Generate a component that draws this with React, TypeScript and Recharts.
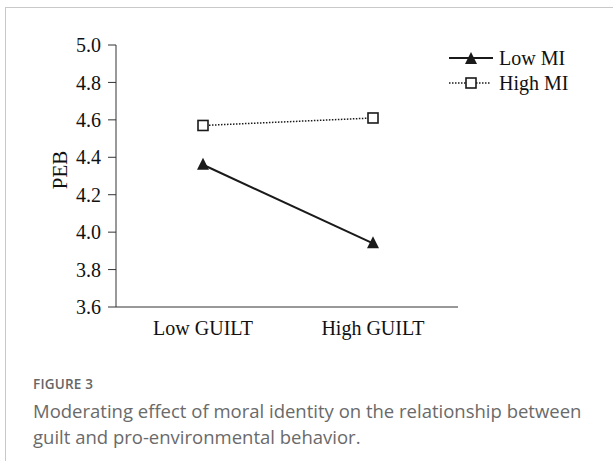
import React from 'react';
import { LineChart, Line, XAxis, YAxis } from 'recharts';

const categories = ['Low GUILT', 'High GUILT'];
const lowMI = [4.36, 3.94];
const highMI = [4.57, 4.61];
const yTicks = [3.6, 3.8, 4.0, 4.2, 4.4, 4.6, 4.8, 5.0];

const data = categories.map((cat, i) => ({ cat, low: lowMI[i], high: highMI[i] }));

const serif = '"Liberation Serif", "Times New Roman", serif';
const ink = '#1a1a1a';

const Triangle = (props: any) => {
  const { cx, cy } = props;
  if (cx == null || cy == null) return null;
  return <polygon points={`${cx},${cy - 7} ${cx - 6},${cy + 5} ${cx + 6},${cy + 5}`} fill={ink} />;
};

const Square = (props: any) => {
  const { cx, cy } = props;
  if (cx == null || cy == null) return null;
  return <rect x={cx - 5} y={cy - 5} width={10} height={10} fill="#fff" stroke={ink} strokeWidth={1.6} />;
};

// legend drawn by hand, top right of the plot
const LegendBox = () => (
  <svg width={130} height={52} style={{ display: 'block' }}>
    <line x1={0} y1={12} x2={44} y2={12} stroke={ink} strokeWidth={2} />
    <Triangle cx={22} cy={13} />
    <text x={50} y={12} dy="0.35em" fontFamily={serif} fontSize={20} fill="#111">Low MI</text>
    <line x1={0} y1={37} x2={42} y2={37} stroke={ink} strokeWidth={1.5} strokeDasharray="1.5 1.5" />
    <Square cx={22} cy={37} />
    <text x={50} y={37} dy="0.35em" fontFamily={serif} fontSize={20} fill="#111">High MI</text>
  </svg>
);

const PebLabel = (props: any) => {
  const { viewBox } = props;
  const x = viewBox.x + 60;
  const y = viewBox.y + viewBox.height / 2 - 6;
  return (
    <text x={x} y={y} transform={`rotate(-90 ${x} ${y})`} textAnchor="middle" dominantBaseline="central"
      fontFamily={serif} fontSize={21} fill="#111">PEB</text>
  );
};

export default function App() {
  return (
    <div style={{ position: 'absolute', left: 0, top: 0, width: 613, height: 461, overflow: 'hidden', background: '#fff' }}>
      <div style={{ position: 'absolute', left: 5, top: 7, width: 640, height: 480, border: '1.5px solid #c9c9c9' }} />
      <div style={{ position: 'absolute', left: 0, top: 0 }}>
        <LineChart width={613} height={350} data={data} margin={{ top: 45, right: 155, bottom: 13, left: 0 }}>
          <XAxis dataKey="cat" padding={{ left: 87, right: 85 }} tickLine={false} axisLine={{ stroke: '#333' }}
            height={30} tickMargin={8} tick={{ fontFamily: serif, fontSize: 20, fill: '#111' }} />
          <YAxis type="number" domain={[3.6, 5.0]} ticks={yTicks} width={116} tickSize={8} tickMargin={7}
            axisLine={{ stroke: '#333' }} tickLine={{ stroke: '#333' }}
            tickFormatter={(v: number) => v.toFixed(1)}
            tick={{ fontFamily: serif, fontSize: 20, fill: '#111' }}
            label={<PebLabel />} />
          <Line dataKey="low" name="Low MI" stroke={ink} strokeWidth={2} dot={<Triangle />} activeDot={false} isAnimationActive={false} />
          <Line dataKey="high" name="High MI" stroke={ink} strokeWidth={1.5} strokeDasharray="1.5 1.5" dot={<Square />} activeDot={false} isAnimationActive={false} />
        </LineChart>
      </div>
      <div style={{ position: 'absolute', left: 449, top: 46 }}>
        <LegendBox />
      </div>
      <div style={{ position: 'absolute', left: 33, top: 375, fontFamily: '"Open Sans", sans-serif', color: '#666' }}>
        <div style={{ fontSize: 13.5, fontWeight: 600, letterSpacing: 0.2 }}>FIGURE 3</div>
        <div style={{ fontSize: 18.5, lineHeight: '26px', marginTop: 5, fontWeight: 400, color: '#6a6a6a', whiteSpace: 'nowrap' }}>
          Moderating effect of moral identity on the relationship between<br />
          guilt and pro-environmental behavior.
        </div>
      </div>
    </div>
  );
}
